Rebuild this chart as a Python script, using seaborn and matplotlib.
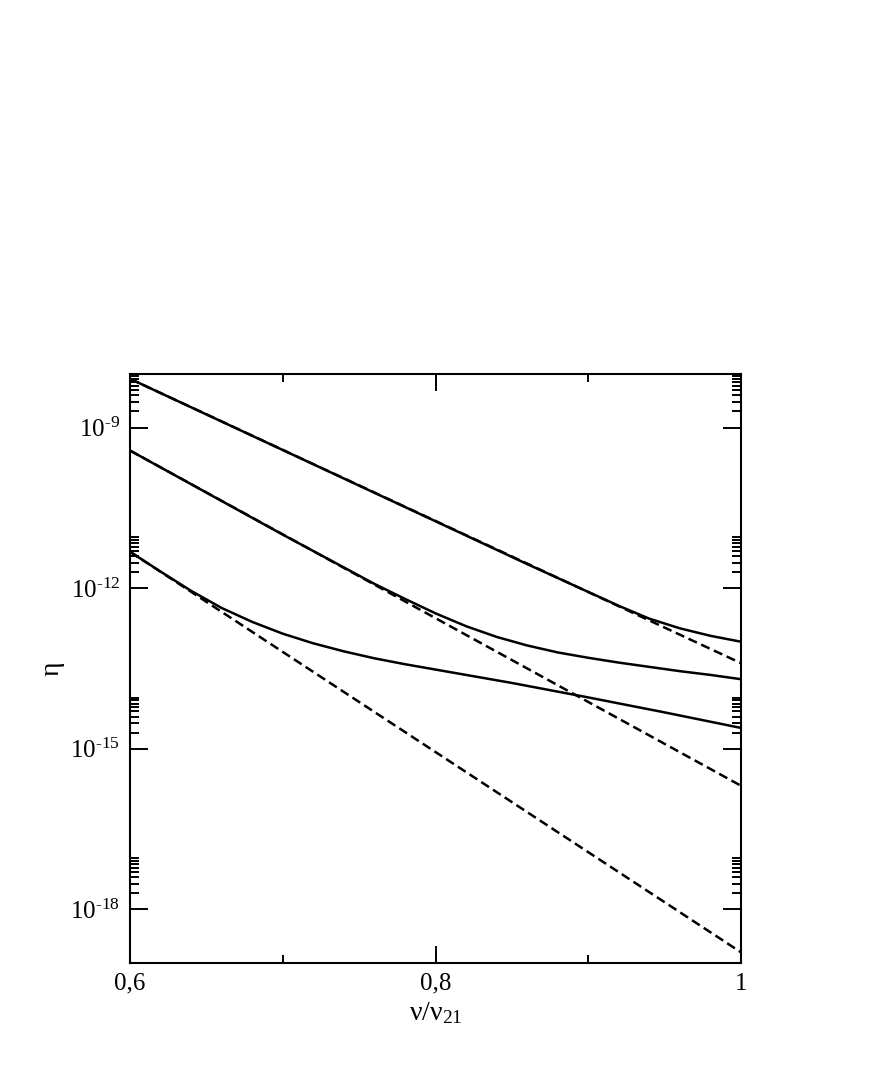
import numpy as np
import pandas as pd
import seaborn as sns
import matplotlib.pyplot as plt
from matplotlib.ticker import FixedLocator, NullFormatter

# values, stored as log10(eta)
x_solid1 = [0.6, 0.7, 0.8, 0.86, 0.88, 0.9, 0.92, 0.94, 0.96, 0.98, 1.0]
log_solid1 = [-8.09, -9.42, -10.75, -11.55, -11.81, -12.07, -12.33, -12.57, -12.75, -12.89, -13.00]

x_solid2 = [0.6, 0.7, 0.76, 0.78, 0.8, 0.82, 0.84, 0.86, 0.88, 0.9, 0.92, 0.94, 0.96, 0.98, 1.0]
log_solid2 = [-9.43, -11.00, -11.92, -12.20, -12.47, -12.71, -12.91, -13.07, -13.20, -13.30,
              -13.39, -13.47, -13.55, -13.62, -13.70]

x_solid3 = [0.6, 0.62, 0.64, 0.66, 0.68, 0.7, 0.72, 0.74, 0.76, 0.78, 0.8, 0.85, 0.9, 0.95, 1.0]
log_solid3 = [-11.32, -11.69, -12.05, -12.37, -12.63, -12.85, -13.03, -13.18, -13.31, -13.42,
              -13.52, -13.77, -14.04, -14.32, -14.61]

x_dash = [0.6, 1.0]
log_dash1 = [-8.09, -13.40]
log_dash2 = [-9.43, -15.69]
log_dash3 = [-11.32, -18.80]

ytick_vals = [1e-9, 1e-12, 1e-15, 1e-18]
ytick_labels = [r"10$^{\text{-9}}$", r"10$^{\text{-12}}$", r"10$^{\text{-15}}$", r"10$^{\text{-18}}$"]
xtick_vals = [0.6, 0.8, 1.0]
xtick_labels = ["0,6", "0,8", "1"]

sns.set_theme(style="ticks")
plt.rcParams["font.family"] = ["Liberation Serif", "DejaVu Serif"]
plt.rcParams["mathtext.fontset"] = "custom"
plt.rcParams["mathtext.rm"] = "Liberation Serif"
plt.rcParams["mathtext.it"] = "Liberation Serif"
plt.rcParams["mathtext.default"] = "rm"

fig = plt.figure(figsize=(8.72, 10.9), dpi=100)
ax = fig.add_axes([0.1491, 0.1165, 0.7007, 0.5404])

dashed = [(x_dash, log_dash1), (x_dash, log_dash2), (x_dash, log_dash3)]
for xs, ls in dashed:
    d = pd.DataFrame({"x": xs, "eta": 10 ** np.array(ls)})
    sns.lineplot(data=d, x="x", y="eta", ax=ax, color="black", lw=1.8,
                 linestyle=(0, (3.7, 1.9)), estimator=None, sort=False)

solids = [(x_solid1, log_solid1), (x_solid2, log_solid2), (x_solid3, log_solid3)]
for xs, ls in solids:
    d = pd.DataFrame({"x": xs, "eta": 10 ** np.array(ls)})
    sns.lineplot(data=d, x="x", y="eta", ax=ax, color="black", lw=1.8,
                 estimator=None, sort=False)

ax.set_yscale("log")
ax.set_xlim(0.6, 1.0)
ax.set_ylim(1e-19, 1e-8)

ax.set_xticks(xtick_vals)
ax.set_xticklabels(xtick_labels)
ax.xaxis.set_minor_locator(FixedLocator([0.7, 0.9]))

ax.yaxis.set_major_locator(FixedLocator(ytick_vals))
ax.set_yticklabels(ytick_labels)
minor_y = [k * 10.0 ** e for e in (-9, -12, -15, -18) for k in range(2, 10)]
ax.yaxis.set_minor_locator(FixedLocator(minor_y))
ax.yaxis.set_minor_formatter(NullFormatter())

ax.tick_params(which="both", direction="in", top=True, right=True, width=1.4,
               color="black", labelsize=18, labelcolor="black")
ax.tick_params(axis="x", which="major", length=12, pad=7)
ax.tick_params(axis="x", which="minor", length=6)
ax.tick_params(axis="y", which="major", length=13, pad=7)
ax.tick_params(axis="y", which="minor", length=6.5)

for s in ax.spines.values():
    s.set_linewidth(1.5)
    s.set_color("black")

ax.set_xlabel("ν/ν$_{21}$", fontsize=20, labelpad=4, color="black")
ax.set_ylabel("η", fontsize=20, labelpad=4, color="black")

fig.savefig("out.png", dpi=100, facecolor="white")
